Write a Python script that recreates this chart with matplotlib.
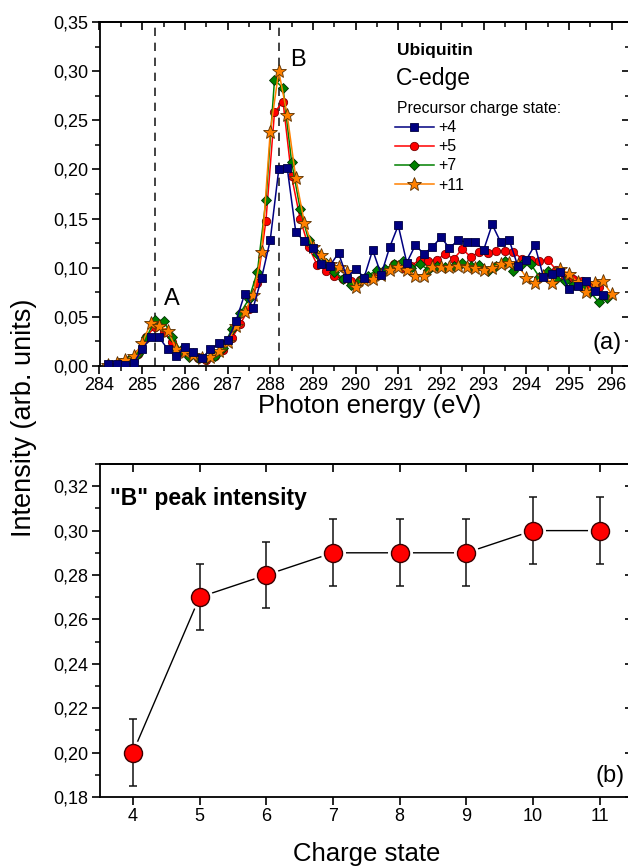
import matplotlib
matplotlib.use('Agg')
import matplotlib.pyplot as plt
from matplotlib.ticker import MultipleLocator, FuncFormatter

plt.rcParams['font.family'] = ['Liberation Sans', 'DejaVu Sans']

# ---------------- data ----------------
energy_even = [284.2, 284.4, 284.6, 284.8, 285.0, 285.2, 285.4, 285.6, 285.8, 286.0,
               286.2, 286.4, 286.6, 286.8, 287.0, 287.2, 287.4, 287.6, 287.8, 288.0,
               288.2, 288.4, 288.6, 288.8, 289.0, 289.2, 289.4, 289.6, 289.8, 290.0,
               290.2, 290.4, 290.6, 290.8, 291.0, 291.2, 291.4, 291.6, 291.8, 292.0,
               292.2, 292.4, 292.6, 292.8, 293.0, 293.2, 293.4, 293.6, 293.8, 294.0,
               294.2, 294.4, 294.6, 294.8, 295.0, 295.2, 295.4, 295.6, 295.8, 296.0]
energy_odd = [284.3, 284.5, 284.7, 284.9, 285.1, 285.3, 285.5, 285.7, 285.9, 286.1,
              286.3, 286.5, 286.7, 286.9, 287.1, 287.3, 287.5, 287.7, 287.9, 288.1,
              288.3, 288.5, 288.7, 288.9, 289.1, 289.3, 289.5, 289.7, 289.9, 290.1,
              290.3, 290.5, 290.7, 290.9, 291.1, 291.3, 291.5, 291.7, 291.9, 292.1,
              292.3, 292.5, 292.7, 292.9, 293.1, 293.3, 293.5, 293.7, 293.9, 294.1,
              294.3, 294.5, 294.7, 294.9, 295.1, 295.3, 295.5, 295.7, 295.9]

int_p4 = [0.002, 0.002, 0.001, 0.003, 0.017, 0.029, 0.029, 0.017, 0.010, 0.019,
          0.014, 0.008, 0.017, 0.023, 0.026, 0.046, 0.073, 0.059, 0.090, 0.128,
          0.200, 0.201, 0.136, 0.127, 0.120, 0.104, 0.102, 0.115, 0.090, 0.099,
          0.090, 0.118, 0.093, 0.121, 0.143, 0.105, 0.123, 0.114, 0.121, 0.131,
          0.120, 0.128, 0.126, 0.126, 0.118, 0.144, 0.126, 0.128, 0.102, 0.108,
          0.123, 0.091, 0.094, 0.096, 0.078, 0.081, 0.086, 0.076, 0.072]
int_p5 = [0.001, 0.003, 0.006, 0.012, 0.030, 0.040, 0.035, 0.024, 0.014, 0.011,
          0.008, 0.006, 0.010, 0.016, 0.028, 0.043, 0.058, 0.084, 0.148, 0.258,
          0.269, 0.193, 0.150, 0.121, 0.103, 0.097, 0.092, 0.089, 0.086, 0.087,
          0.090, 0.093, 0.098, 0.104, 0.100, 0.102, 0.108, 0.107, 0.108, 0.114,
          0.109, 0.119, 0.111, 0.116, 0.115, 0.117, 0.117, 0.116, 0.109, 0.108,
          0.107, 0.108, 0.098, 0.091, 0.089, 0.086, 0.082, 0.080]
int_p7 = [0.001, 0.003, 0.006, 0.012, 0.029, 0.047, 0.046, 0.030, 0.016, 0.009,
          0.008, 0.007, 0.010, 0.018, 0.038, 0.054, 0.068, 0.096, 0.169, 0.291,
          0.283, 0.208, 0.160, 0.128, 0.114, 0.105, 0.096, 0.089, 0.082, 0.087,
          0.092, 0.098, 0.099, 0.104, 0.107, 0.100, 0.104, 0.098, 0.102, 0.101,
          0.102, 0.105, 0.102, 0.103, 0.097, 0.102, 0.107, 0.097, 0.104, 0.104,
          0.091, 0.097, 0.089, 0.086, 0.082, 0.080, 0.075, 0.065, 0.069]
int_p11 = [0.001, 0.003, 0.006, 0.010, 0.023, 0.044, 0.041, 0.036, 0.017, 0.014,
           0.011, 0.008, 0.009, 0.015, 0.024, 0.041, 0.055, 0.072, 0.116, 0.238,
           0.300, 0.255, 0.191, 0.146, 0.121, 0.113, 0.104, 0.101, 0.096, 0.080,
           0.087, 0.089, 0.093, 0.098, 0.101, 0.098, 0.092, 0.092, 0.101, 0.101,
           0.101, 0.102, 0.101, 0.100, 0.098, 0.100, 0.104, 0.105, 0.103, 0.090,
           0.084, 0.092, 0.084, 0.099, 0.094, 0.085, 0.075, 0.084, 0.086, 0.073]

peak_A, peak_B = 285.3, 288.2

charge_state = [4, 5, 6, 7, 8, 9, 10, 11]
b_peak = [0.20, 0.27, 0.28, 0.29, 0.29, 0.29, 0.30, 0.30]
b_err = [0.015, 0.015, 0.015, 0.015, 0.015, 0.015, 0.015, 0.015]

# ---------------- figure ----------------
W, H = 628, 868
fig = plt.figure(figsize=(W / 100, H / 100), dpi=100)


def box(x0, y0, x1, y1):
    return [x0 / W, 1 - y1 / H, (x1 - x0) / W, (y1 - y0) / H]


comma = FuncFormatter(lambda v, p: f"{v:.2f}".replace('.', ','))


def style_axes(ax, xmaj, xmin, ymaj, ymin):
    for s in ax.spines.values():
        s.set_linewidth(1.3)
    ax.xaxis.set_major_locator(MultipleLocator(xmaj))
    ax.yaxis.set_major_locator(MultipleLocator(ymaj))
    if xmin:
        ax.xaxis.set_minor_locator(MultipleLocator(xmin))
    ax.yaxis.set_minor_locator(MultipleLocator(ymin))
    ax.tick_params(which='major', direction='out', length=6, width=1.2,
                   labelsize=13, pad=2)
    ax.tick_params(which='minor', direction='out', length=3.5, width=1.1)
    ax.yaxis.set_major_formatter(comma)
    top = ax.secondary_xaxis('top')
    right = ax.secondary_yaxis('right')
    top.xaxis.set_major_locator(MultipleLocator(xmaj))
    if xmin:
        top.xaxis.set_minor_locator(MultipleLocator(xmin))
    right.yaxis.set_major_locator(MultipleLocator(ymaj))
    right.yaxis.set_minor_locator(MultipleLocator(ymin))
    for sec in (top, right):
        sec.tick_params(which='major', direction='in', length=6, width=1.2,
                        labelleft=False, labelright=False, labeltop=False,
                        labelbottom=False)
        sec.tick_params(which='minor', direction='in', length=3.5, width=1.1)
        for s in sec.spines.values():
            s.set_linewidth(1.3)


# ---- top panel ----
ax1 = fig.add_axes(box(99.5, 22, 630, 366))
ax1.set_xlim(284, 296.43)
ax1.set_ylim(0, 0.35)

series = [
    (energy_even[:len(int_p4)], int_p4, '+4', '#000080', 's', 6.0, '#000040', 5),
    (energy_odd[:len(int_p5)], int_p5, '+5', '#FF0000', 'o', 6.0, '#7a0000', 2),
    (energy_odd[:len(int_p7)], int_p7, '+7', '#008000', 'D', 5.6, '#003000', 3),
    (energy_even[:len(int_p11)], int_p11, '+11', '#FF8000', '*', 10.0, '#5a3000', 4),
]
handles = []
for xs, ys, lab, col, mk, ms, mec, z in series:
    h, = ax1.plot(xs, ys, color=col, lw=1.1, marker=mk, ms=ms, mfc=col,
                  mec=mec, mew=0.6, label=lab, zorder=z)
    handles.append(h)

for xv in (peak_A, peak_B):
    ax1.axvline(xv, color='#222222', lw=1.2, ls=(0, (5, 4)), zorder=1)

ax1.text(285.70, 0.068, 'A', fontsize=17, ha='center', va='center')
ax1.text(288.66, 0.311, 'B', fontsize=17, ha='center', va='center')
ax1.text(0.985, 0.035, '(a)', transform=ax1.transAxes, fontsize=17,
         ha='right', va='bottom')

fig.text(397 / W, 1 - 51 / H, 'Ubiquitin', fontsize=12.5, fontweight='bold',
         ha='left', va='center')
fig.text(396 / W, 1 - 78 / H, 'C-edge', fontsize=16.5, ha='left', va='center')
fig.text(397 / W, 1 - 108 / H, 'Precursor charge state:', fontsize=11.3,
         ha='left', va='center')

leg = ax1.legend(handles=handles, loc='upper left',
                 bbox_to_anchor=(392 / W, 1 - 117 / H),
                 bbox_transform=fig.transFigure, frameon=False, fontsize=11.5,
                 handlelength=2.4, handletextpad=0.3, labelspacing=0.26,
                 borderpad=0.2, borderaxespad=0)

ax1.set_xlabel('Photon energy (eV)', fontsize=18.5)
ax1.xaxis.set_label_coords((370 - 99.5) / (630 - 99.5), -0.081)
style_axes(ax1, 1, 0.5, 0.05, 0.025)

# ---- bottom panel ----
ax2 = fig.add_axes(box(99.5, 464, 633, 797))
ax2.set_xlim(3.5, 11.5)
ax2.set_ylim(0.18, 0.33)
ax2.plot(charge_state, b_peak, color='k', lw=1.0, zorder=1)
ax2.plot(charge_state, b_peak, 'o', ms=17, mfc='white', mec='white', zorder=2)
ax2.errorbar(charge_state, b_peak, yerr=b_err, fmt='none', ecolor='#111111',
             elinewidth=1.1, capsize=3, capthick=1.1, zorder=3)
ax2.plot(charge_state, b_peak, 'o', ms=13, mfc='#FF0000', mec='#3a0000',
         mew=1.0, zorder=4)

ax2.text(10.5 / 533.5, 1 - 34 / 333, '"B" peak intensity', transform=ax2.transAxes,
         fontsize=16.5, fontweight='bold', ha='left', va='center')
ax2.text(0.985, 0.03, '(b)', transform=ax2.transAxes, fontsize=17,
         ha='right', va='bottom')
ax2.set_xlabel('Charge state', fontsize=18.5, labelpad=12)
style_axes(ax2, 1, None, 0.02, 0.01)

fig.text(24 / W, 1 - 418 / H, 'Intensity (arb. units)', fontsize=19.5,
         rotation=90, ha='center', va='center')

fig.savefig('out.png', dpi=100)
